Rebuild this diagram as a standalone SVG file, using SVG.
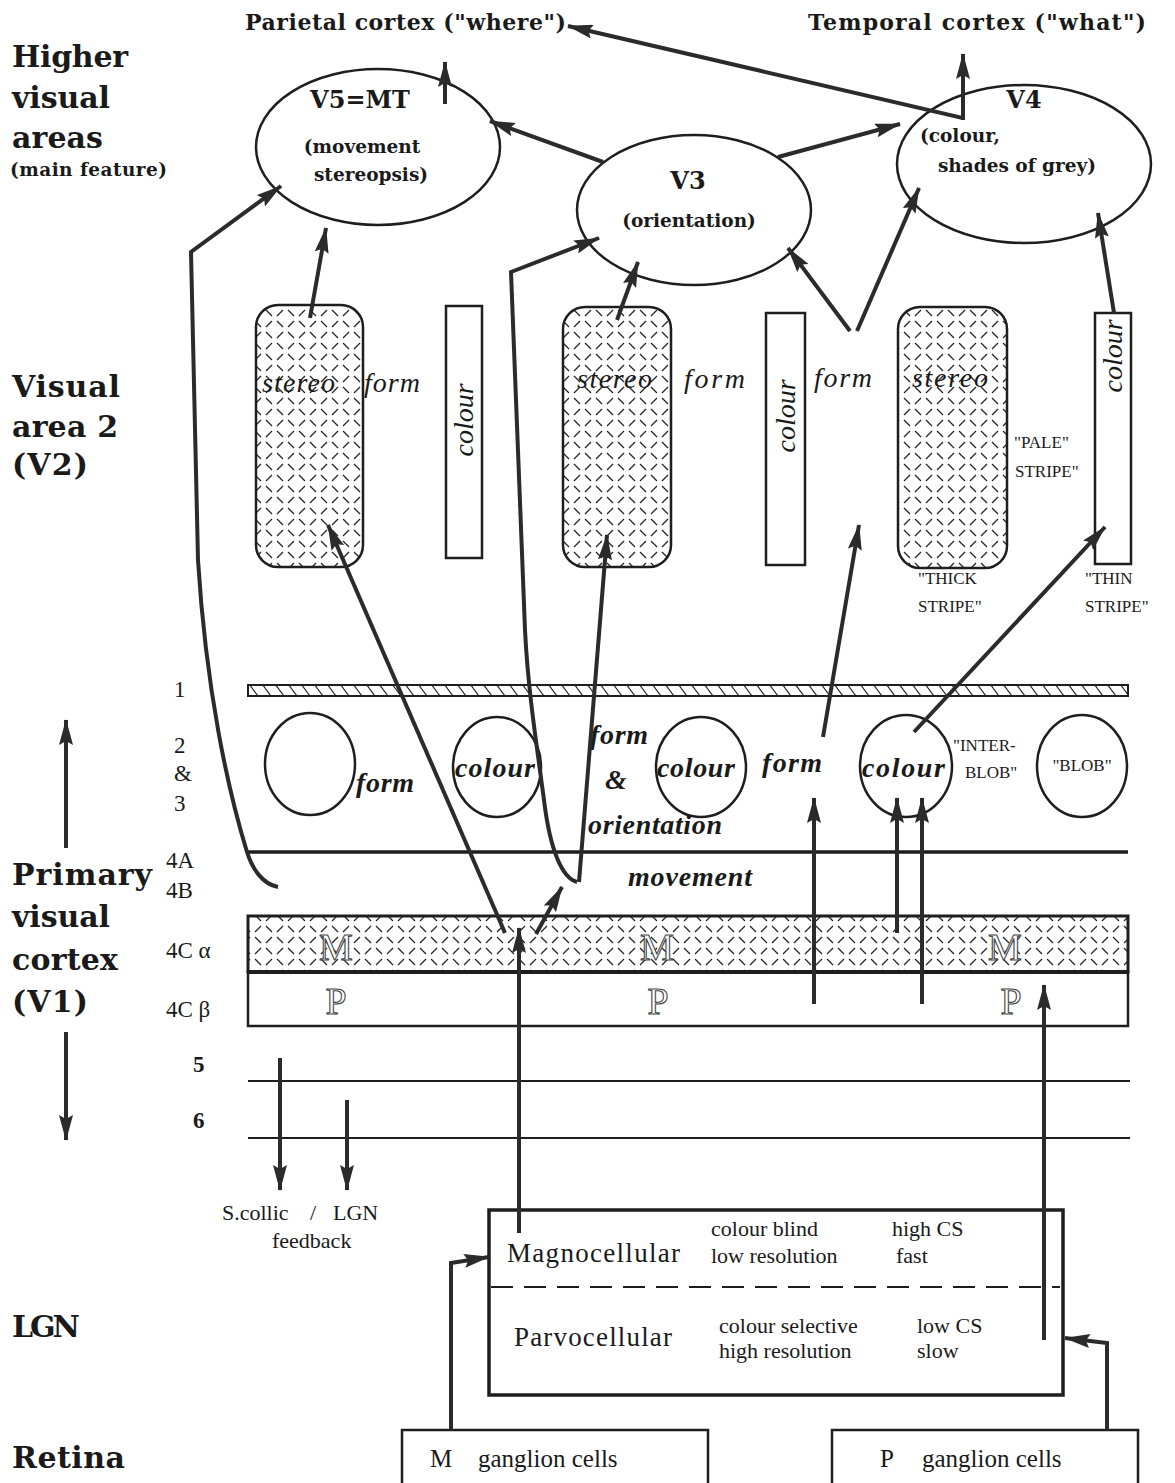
<svg xmlns="http://www.w3.org/2000/svg" width="1175" height="1483" viewBox="0 0 1175 1483">
<style>
text{font-family:"Liberation Serif","Times New Roman",serif;fill:#1a1a1a}
.big{font-family:"DejaVu Serif",serif;font-weight:bold;font-size:30px}
.sub{font-family:"DejaVu Serif",serif;font-weight:bold;font-size:18.5px}
.ttl{font-family:"DejaVu Serif",serif;font-weight:bold;font-size:24px}
.top{font-family:"DejaVu Serif",serif;font-weight:bold;font-size:22px}
.it{font-style:italic;font-size:28px}
.bi{font-style:italic;font-weight:bold;font-size:28px}
.sm{font-size:17px}
.ly{font-size:23px}
.lyb{font-size:23px;font-weight:bold}
.lg{font-size:22px}
.lgb{font-size:27px}
.rt{font-size:25px}
.ol{font-size:38px;fill:#fff;stroke:#444;stroke-width:1.1}
.ln{stroke:#2b2b2b;stroke-width:4;fill:none}
.arr{marker-end:url(#ah)}
.sh{fill:#fff;stroke:#1e1e1e;stroke-width:2.5}
.hl{stroke:#1e1e1e;fill:none}
</style>
<defs>
<marker id="ah" markerUnits="userSpaceOnUse" markerWidth="26" markerHeight="14" viewBox="0 0 26 14" refX="25" refY="7" orient="auto">
<path d="M0,0 L26,7 L0,14 L4,7 z" fill="#2b2b2b"/>
</marker>
<pattern id="dash" patternUnits="userSpaceOnUse" width="22" height="22">
<g stroke="#222" stroke-width="1.3">
<line x1="2" y1="2" x2="8" y2="8"/>
<line x1="13" y1="8" x2="19" y2="2"/>
<line x1="2" y1="19" x2="8" y2="13"/>
<line x1="13" y1="13" x2="19" y2="19"/>
</g>
</pattern>
<pattern id="diag" patternUnits="userSpaceOnUse" width="13" height="12">
<line x1="2" y1="0" x2="11" y2="12" stroke="#222" stroke-width="1.2"/>
</pattern>
</defs>

<g id="region-labels">
<text class="big" x="12" y="67" textLength="116">Higher</text>
<text class="big" x="12" y="108" textLength="98">visual</text>
<text class="big" x="12" y="148" textLength="91">areas</text>
<text class="sub" x="10" y="176" textLength="157">(main feature)</text>
<text class="big" x="12" y="397" textLength="108">Visual</text>
<text class="big" x="12" y="437" textLength="106">area 2</text>
<text class="big" x="12" y="475" textLength="76">(V2)</text>
<text class="big" x="12" y="885" textLength="140">Primary</text>
<text class="big" x="12" y="927" textLength="98">visual</text>
<text class="big" x="12" y="970" textLength="106">cortex</text>
<text class="big" x="12" y="1012" textLength="76">(V1)</text>
<text class="big" x="12" y="1337" textLength="68">LGN</text>
<text class="big" x="12" y="1468" textLength="113">Retina</text>
</g>

<g id="layer-labels">
<text class="ly" x="174" y="697">1</text>
<text class="ly" x="174" y="753">2</text>
<text class="ly" x="174" y="781">&amp;</text>
<text class="ly" x="174" y="811">3</text>
<text class="ly" x="166" y="868">4A</text>
<text class="ly" x="166" y="898">4B</text>
<text class="ly" x="166" y="958">4C α</text>
<text class="ly" x="166" y="1017">4C β</text>
<text class="lyb" x="193" y="1072">5</text>
<text class="lyb" x="193" y="1128">6</text>
</g>

<g id="outputs">
<text class="top" x="245" y="30" textLength="321">Parietal cortex ("where")</text>
<text class="top" x="808" y="30" textLength="338">Temporal cortex ("what")</text>
</g>

<g id="V5">
<ellipse class="sh" cx="378" cy="147" rx="122" ry="78"/>
<text class="ttl" x="360" y="108" text-anchor="middle">V5=MT</text>
<text class="sub" x="362" y="153" text-anchor="middle">(movement</text>
<text class="sub" x="371" y="181" text-anchor="middle">stereopsis)</text>
</g>
<g id="V3">
<ellipse class="sh" cx="694" cy="210" rx="117" ry="75"/>
<text class="ttl" x="688" y="189" text-anchor="middle">V3</text>
<text class="sub" x="689" y="227" text-anchor="middle">(orientation)</text>
</g>
<g id="V4">
<ellipse class="sh" cx="1024" cy="164" rx="127" ry="79"/>
<text class="ttl" x="1024" y="108" text-anchor="middle">V4</text>
<text class="sub" x="920" y="142">(colour,</text>
<text class="sub" x="1017" y="172" text-anchor="middle">shades of grey)</text>
</g>

<g id="V2">
<rect x="256" y="305" width="107" height="262" rx="22" fill="url(#dash)" stroke="#1e1e1e" stroke-width="2.5"/>
<text class="it" x="262" y="392" textLength="73">stereo</text>
<text class="it" x="364" y="392" textLength="56">form</text>
<rect class="sh" x="446" y="306" width="36" height="252"/>
<text class="it" transform="translate(473,420) rotate(-90)" text-anchor="middle">colour</text>
<rect x="563" y="307" width="108" height="260" rx="22" fill="url(#dash)" stroke="#1e1e1e" stroke-width="2.5"/>
<text class="it" x="577" y="388" textLength="75">stereo</text>
<text class="it" x="684" y="388" textLength="61">form</text>
<rect class="sh" x="766" y="313" width="39" height="252"/>
<text class="it" transform="translate(795,416) rotate(-90)" text-anchor="middle">colour</text>
<text class="it" x="814" y="387" textLength="58">form</text>
<rect x="898" y="307" width="109" height="261" rx="22" fill="url(#dash)" stroke="#1e1e1e" stroke-width="2.5"/>
<text class="it" x="912" y="387" textLength="76">stereo</text>
<text class="sm" x="1014" y="448">"PALE"</text>
<text class="sm" x="1015" y="477">STRIPE"</text>
<rect class="sh" x="1095" y="313" width="36" height="251"/>
<text class="it" transform="translate(1122,356) rotate(-90)" text-anchor="middle">colour</text>
<text class="sm" x="918" y="584">"THICK</text>
<text class="sm" x="918" y="612">STRIPE"</text>
<text class="sm" x="1085" y="584">"THIN</text>
<text class="sm" x="1085" y="612">STRIPE"</text>
</g>

<g id="V1">
<rect x="248" y="685" width="880" height="11" fill="url(#diag)" stroke="#1e1e1e" stroke-width="2"/>
<ellipse class="sh" cx="310" cy="764" rx="45" ry="51" stroke-width="2.2"/>
<ellipse class="sh" cx="497" cy="767" rx="44" ry="50" stroke-width="2.2"/>
<ellipse class="sh" cx="701" cy="767" rx="45" ry="50" stroke-width="2.2"/>
<ellipse class="sh" cx="906" cy="766" rx="46" ry="51" stroke-width="2.2"/>
<ellipse class="sh" cx="1082" cy="766" rx="45" ry="51" stroke-width="2.2"/>
<text class="bi" x="356" y="792" textLength="58">form</text>
<text class="bi" x="455" y="777" textLength="80">colour</text>
<text class="bi" x="590" y="744" textLength="58">form</text>
<text class="bi" x="605" y="789">&amp;</text>
<text class="bi" x="588" y="834" textLength="134">orientation</text>
<text class="bi" x="657" y="777" textLength="78">colour</text>
<text class="bi" x="762" y="772" textLength="60">form</text>
<text class="bi" x="862" y="777" textLength="83">colour</text>
<text class="sm" x="953" y="751">"INTER-</text>
<text class="sm" x="965" y="778">BLOB"</text>
<text class="sm" x="1082" y="771" text-anchor="middle">"BLOB"</text>
<line class="hl" x1="248" y1="852" x2="1128" y2="852" stroke-width="3.5"/>
<text class="bi" x="628" y="886" textLength="124">movement</text>
<rect x="248" y="916" width="880" height="56" fill="url(#dash)" stroke="#1e1e1e" stroke-width="3"/>
<rect x="248" y="972" width="880" height="54" fill="#fff" stroke="#1e1e1e" stroke-width="2.5"/>
<line class="hl" x1="248" y1="972" x2="1128" y2="972" stroke-width="4"/>
<g opacity="0.99">
<text class="ol" x="336" y="960" text-anchor="middle">M</text>
<text class="ol" x="657" y="960" text-anchor="middle">M</text>
<text class="ol" x="1005" y="960" text-anchor="middle">M</text>
<text class="ol" x="336" y="1014" text-anchor="middle">P</text>
<text class="ol" x="658" y="1014" text-anchor="middle">P</text>
<text class="ol" x="1011" y="1014" text-anchor="middle">P</text>
</g>
<line class="hl" x1="248" y1="1081" x2="1130" y2="1081" stroke-width="2.2"/>
<line class="hl" x1="248" y1="1138" x2="1130" y2="1138" stroke-width="2.2"/>
<text class="lg" y="1220"><tspan x="222">S.collic</tspan><tspan x="310">/</tspan><tspan x="333">LGN</tspan></text>
<text class="lg" x="272" y="1248">feedback</text>
</g>

<g id="LGN">
<rect x="489" y="1210" width="574" height="185" fill="#fff" stroke="#1e1e1e" stroke-width="3.5"/>
<line x1="491" y1="1287" x2="1060" y2="1287" stroke="#1e1e1e" stroke-width="2" stroke-dasharray="22,11"/>
<text class="lgb" x="507" y="1262" textLength="173">Magnocellular</text>
<text class="lg" x="711" y="1236">colour blind</text>
<text class="lg" x="711" y="1263">low resolution</text>
<text class="lg" x="892" y="1236">high CS</text>
<text class="lg" x="896" y="1263">fast</text>
<text class="lgb" x="514" y="1346" textLength="158">Parvocellular</text>
<text class="lg" x="719" y="1333">colour selective</text>
<text class="lg" x="719" y="1358">high resolution</text>
<text class="lg" x="917" y="1333">low CS</text>
<text class="lg" x="917" y="1358">slow</text>
</g>

<g id="retina-M">
<rect x="402" y="1430" width="306" height="60" fill="#fff" stroke="#1e1e1e" stroke-width="2.5"/>
<text class="rt" y="1467"><tspan x="430">M</tspan><tspan x="478">ganglion cells</tspan></text>
</g>
<g id="retina-P">
<rect x="832" y="1430" width="306" height="60" fill="#fff" stroke="#1e1e1e" stroke-width="2.5"/>
<text class="rt" y="1467"><tspan x="880">P</tspan><tspan x="922">ganglion cells</tspan></text>
</g>

<g id="connectors">
<line class="ln arr" x1="66" y1="848" x2="66" y2="720"/>
<line class="ln arr" x1="66" y1="1032" x2="66" y2="1140"/>
<line class="ln arr" x1="445" y1="104" x2="445" y2="62"/>
<line class="ln arr" x1="963" y1="120" x2="963" y2="54"/>
<polyline class="ln arr" points="963,120 963,118 568,26" stroke-width="3"/>
<line class="ln arr" x1="603" y1="162" x2="490" y2="121"/>
<line class="ln arr" x1="778" y1="157" x2="900" y2="124"/>
<line class="ln arr" x1="310" y1="318" x2="326" y2="228"/>
<line class="ln arr" x1="617" y1="320" x2="638" y2="262"/>
<line class="ln arr" x1="850" y1="331" x2="788" y2="248"/>
<line class="ln arr" x1="857" y1="331" x2="919" y2="188"/>
<line class="ln arr" x1="1114" y1="313" x2="1098" y2="213"/>
<path class="ln arr" d="M278 887 C262 884 252 868 247 852 C228 790 206 690 198 560 L191 252 L281 186" stroke-width="3.5"/>
<path class="ln arr" d="M577 882 C562 878 550 850 544 800 C536 740 528 690 525 630 L511 272 L599 238" stroke-width="3.5"/>
<line class="ln arr" x1="579" y1="882" x2="607" y2="535"/>
<line class="ln arr" x1="505" y1="933" x2="328" y2="525"/>
<line class="ln arr" x1="536" y1="934" x2="562" y2="887"/>
<line class="ln arr" x1="519" y1="1233" x2="519" y2="928"/>
<line class="ln arr" x1="814" y1="1004" x2="814" y2="798"/>
<line class="ln arr" x1="897" y1="933" x2="897" y2="798"/>
<line class="ln arr" x1="922" y1="1004" x2="922" y2="798"/>
<line class="ln arr" x1="914" y1="732" x2="1105" y2="527"/>
<line class="ln arr" x1="823" y1="737" x2="859" y2="525"/>
<line class="ln arr" x1="1044" y1="1340" x2="1044" y2="985"/>
<line class="ln arr" x1="280" y1="1058" x2="280" y2="1190"/>
<line class="ln arr" x1="347" y1="1100" x2="347" y2="1190"/>
<polyline class="ln arr" points="451,1430 451,1263 489,1257"/>
<polyline class="ln arr" points="1107,1430 1107,1343 1065,1338"/>
</g>
</svg>
